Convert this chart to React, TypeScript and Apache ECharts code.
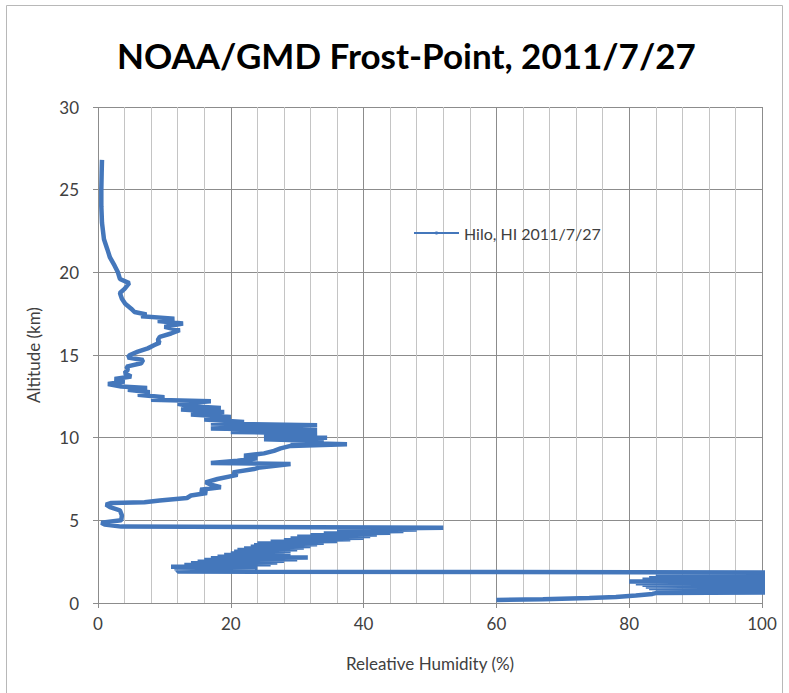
import React, { useEffect, useRef } from "react";
import * as echarts from "echarts";

const titleText = "NOAA/GMD Frost-Point, 2011/7/27";
const seriesName = "Hilo, HI 2011/7/27";
const xAxisTitle = "Releative Humidity (%)";
const yAxisTitle = "Altitude (km)";

// altitude (km), ascending through the sounding
const altitude = [
  0.18, 0.22, 0.3, 0.36, 0.45, 0.55, 0.6, 0.65, 0.7, 0.75, 0.8, 0.85, 0.9, 0.95, 1.0, 1.05, 1.1, 1.15,
  1.2, 1.25, 1.3, 1.35, 1.4, 1.45, 1.5, 1.55, 1.6, 1.65, 1.7, 1.75, 1.8, 1.85,
  1.9, 2.0, 2.05, 2.1, 2.15, 2.2, 2.25, 2.3, 2.35, 2.4, 2.45, 2.5, 2.55, 2.6, 2.65, 2.7, 2.75, 2.8, 2.85,
  2.9, 2.95, 3.0, 3.05, 3.1, 3.15, 3.2, 3.25, 3.3, 3.35, 3.4, 3.45, 3.5, 3.55, 3.6, 3.65, 3.7, 3.75, 3.8,
  3.85, 3.9, 3.95, 4.0, 4.05, 4.1, 4.15, 4.2, 4.25, 4.3, 4.35, 4.4, 4.45, 4.5, 4.55,
  4.62, 4.75, 4.85, 5.0, 5.3, 5.6, 5.8, 5.95,
  6.05, 6.1, 6.2, 6.35, 6.5, 6.65, 6.85, 7.0, 7.15, 7.3, 7.5, 7.75, 7.9, 8.1, 8.2, 8.4, 8.47, 8.6, 8.75,
  8.9, 9.05, 9.2, 9.35, 9.5, 9.6, 9.7, 9.8, 9.9, 10.0, 10.1, 10.25, 10.35, 10.45, 10.55, 10.75, 10.85,
  10.95, 11.1, 11.25, 11.4, 11.55, 11.7, 11.8, 11.9, 12.05, 12.2, 12.3, 12.45, 12.6, 12.75, 12.9, 13.0,
  13.1, 13.25, 13.4, 13.55, 13.7, 13.9, 14.1, 14.3, 14.5, 14.7, 14.85, 15.0, 15.2, 15.4, 15.6, 15.75,
  15.9, 16.1, 16.3, 16.5, 16.7, 16.9, 17.05, 17.2, 17.35, 17.45, 17.6, 17.8, 18.1, 18.4, 18.75, 19.0,
  19.35, 19.6, 20.0, 20.4, 20.9, 21.4, 22.0, 23.0, 24.0, 25.0, 26.0, 26.8,
];

// relative humidity (%) at each altitude
const humidity = [
  60, 67, 74, 78, 81, 83.5, 84, 104, 86, 106, 84, 105, 83, 108, 82.5, 106, 82, 107,
  81, 104, 80, 108, 82, 105, 83, 109, 84, 106, 85, 108, 86, 104,
  12, 12, 20, 11.5, 24, 11, 22, 13, 26, 14, 27, 15, 28, 16, 30, 17, 31.6, 18, 29,
  19, 28, 20, 28, 20.5, 29, 21, 30, 22, 31, 23, 32, 23.5, 33, 24, 34, 26, 36, 28,
  38, 29, 40, 30, 41, 32, 42, 34, 44, 36, 46, 38, 48, 42, 52,
  3.5, 1, 0.5, 3.5, 3.6, 3.3, 1.8, 1.2,
  2, 7, 9.3, 13.4, 14, 16.4, 15.4, 18.5, 17, 16.2, 18, 21, 20.3, 23.5, 24.4, 29, 17, 21, 24,
  22, 25, 26.5, 27.5, 29, 37.5, 29, 34, 25, 34.5, 25, 33, 20, 33, 17, 33, 17,
  22, 16, 20, 14, 19, 12.5, 18.5, 14, 12, 17, 8, 10, 6, 7.8, 4.5, 7.4,
  3.5, 1.5, 4, 2.5, 5, 4, 4.5, 4.3, 6.5, 6.8, 4.5, 4.8, 6, 7.5, 8.5, 9.3,
  9, 9.3, 11, 12.3, 10, 12.8, 9, 11.5, 6.5, 7.3, 5.5, 5, 4.1, 3.6, 3.3, 4,
  4.7, 3.3, 3.0, 2.5, 1.8, 1.4, 0.9, 0.6, 0.5, 0.5, 0.55, 0.6,
];

const FONT = "Lato, 'Open Sans', sans-serif";

export default function App() {
  const ref = useRef<HTMLDivElement>(null);
  useEffect(() => {
    if (!ref.current) return;
    const chart = echarts.init(ref.current, null, { renderer: "svg" });
    const data = altitude.map((a, i) => [humidity[i], a]);
    chart.setOption({
      animation: false,
      backgroundColor: "#ffffff",
      title: {
        text: titleText,
        left: 112,
        top: 32,
        textStyle: { fontFamily: FONT, fontSize: 35, fontWeight: "bold", color: "#000000" },
      },
      graphic: [
        {
          type: "rect",
          shape: { x: 6.5, y: 5.5, width: 776, height: 700 },
          style: { fill: "none", stroke: "#b8b8b8", lineWidth: 1 },
          silent: true,
        },
      ],
      legend: {
        data: [seriesName],
        left: 408,
        top: 220,
        itemWidth: 45,
        itemHeight: 4,
        textStyle: { fontFamily: FONT, fontSize: 16, color: "#404040" },
      },
      grid: { left: 98, right: 27, top: 107, bottom: 90, containLabel: false },
      xAxis: {
        type: "value",
        min: 0,
        max: 100,
        interval: 20,
        name: xAxisTitle,
        nameLocation: "middle",
        nameGap: 52,
        nameTextStyle: { fontFamily: FONT, fontSize: 17, color: "#404040" },
        axisLine: { show: true, lineStyle: { color: "#8c8c8c" } },
        axisTick: { show: true, length: 5, lineStyle: { color: "#8c8c8c" } },
        axisLabel: { fontFamily: FONT, fontSize: 17, color: "#404040", margin: 12 },
        splitLine: { show: true, lineStyle: { color: "#8c8c8c", width: 1 } },
        minorTick: { show: false, splitNumber: 5 },
        minorSplitLine: { show: true, lineStyle: { color: "#c4c4c4", width: 1 } },
      },
      yAxis: {
        type: "value",
        min: 0,
        max: 30,
        interval: 5,
        name: yAxisTitle,
        nameLocation: "middle",
        nameGap: 56,
        nameTextStyle: { fontFamily: FONT, fontSize: 17, color: "#404040" },
        axisLine: { show: false },
        axisTick: { show: true, length: 5, lineStyle: { color: "#8c8c8c" } },
        axisLabel: { fontFamily: FONT, fontSize: 17, color: "#404040", margin: 19 },
        splitLine: { show: true, lineStyle: { color: "#8c8c8c", width: 1 } },
      },
      series: [
        {
          name: seriesName,
          type: "line",
          data,
          symbol: "none",
          showSymbol: false,
          clip: true,
          lineStyle: { color: "#4477bb", width: 4.5 },
          itemStyle: { color: "#4477bb" },
        },
      ],
    });
    return () => chart.dispose();
  }, []);
  return (
    <div
      ref={ref}
      style={{ position: "absolute", left: 0, top: 0, width: 789, height: 693 }}
    />
  );
}
